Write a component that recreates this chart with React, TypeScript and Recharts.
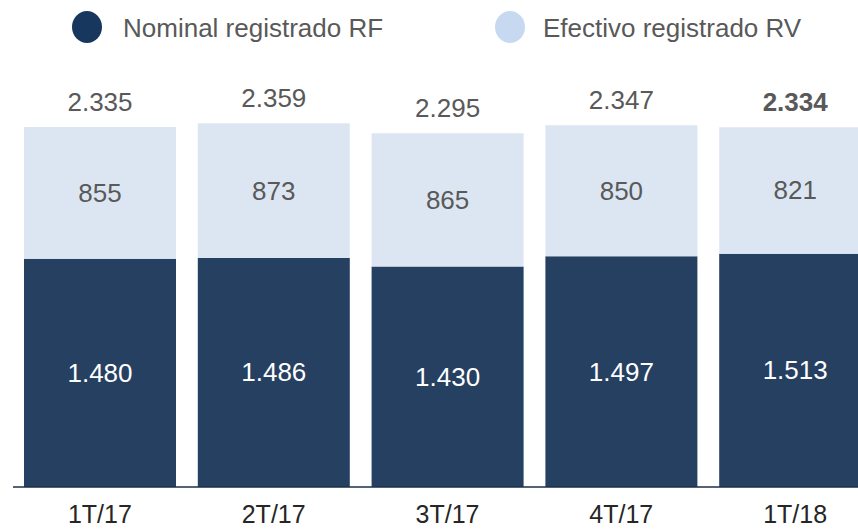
import { BarChart, Bar, XAxis, YAxis, LabelList, Legend } from 'recharts'

const quarters = ['1T/17', '2T/17', '3T/17', '4T/17', '1T/18']
const nominalRF = [1480, 1486, 1430, 1497, 1513]
const efectivoRV = [855, 873, 865, 850, 821]
const totals = [2335, 2359, 2295, 2347, 2334]

const DARK = '#264061'
const LIGHT = '#dce6f2'
const FONT = 'Liberation Sans, Arial, sans-serif'

const data = quarters.map((q, i) => ({
  quarter: q,
  rf: nominalRF[i],
  rv: efectivoRV[i],
  total: totals[i],
}))

const fmt = (v: number) => v.toLocaleString('de-DE')

function InnerLabel(color: string) {
  return (props: any) => {
    const { x, y, width, height, value } = props
    return (
      <text
        x={x + width / 2}
        y={y + height / 2 + 9}
        textAnchor="middle"
        fontSize={26}
        fontFamily={FONT}
        fill={color}
      >
        {fmt(value)}
      </text>
    )
  }
}

function TotalLabel(props: any) {
  const { x, y, width, index } = props
  const last = index === totals.length - 1
  return (
    <text
      x={x + width / 2}
      y={y - 16}
      textAnchor="middle"
      fontSize={26}
      fontFamily={FONT}
      fontWeight={last ? 'bold' : 'normal'}
      fill="#595959"
    >
      {fmt(totals[index])}
    </text>
  )
}

function TopLegend() {
  return (
    <svg width={858} height={60} style={{ display: 'block' }}>
      <ellipse cx={87} cy={27} rx={15} ry={16} fill="#17375e" />
      <text x={123} y={37} fontSize={26} fontFamily={FONT} fill="#595959">
        Nominal registrado RF
      </text>
      <ellipse cx={510} cy={27} rx={15} ry={16} fill="#c6d9f1" />
      <text x={543} y={37} fontSize={26} fontFamily={FONT} fill="#595959">
        Efectivo registrado RV
      </text>
    </svg>
  )
}

function QuarterTick(props: any) {
  const { x, y, payload } = props
  return (
    <text x={x} y={y + 18} textAnchor="middle" fontSize={25} fontFamily={FONT} fill="#262626">
      {payload.value}
    </text>
  )
}

export default function App() {
  return (
    <div
      style={{
        position: 'fixed',
        left: 0,
        top: 0,
        width: 858,
        height: 530,
        overflow: 'hidden',
        background: '#fff',
      }}
    >
      <BarChart
        width={882}
        height={530}
        data={data}
        margin={{ top: 57, right: 0, left: 13, bottom: 0 }}
        barSize={152}
      >
        <Legend
          verticalAlign="top"
          height={60}
          content={() => <TopLegend />}
          wrapperStyle={{ position: 'absolute', top: 0, left: 0, width: 858 }}
        />
        <XAxis
          dataKey="quarter"
          height={43}
          tickLine={false}
          axisLine={{ stroke: '#1c2f4a', strokeWidth: 1.5 }}
          tick={<QuarterTick />}
          tickMargin={12}
          interval={0}
        />
        <YAxis hide domain={[0, 2400]} allowDataOverflow />
        <Bar dataKey="rf" stackId="a" fill={DARK} isAnimationActive={false}>
          <LabelList dataKey="rf" content={InnerLabel('#ffffff')} />
        </Bar>
        <Bar dataKey="rv" stackId="a" fill={LIGHT} isAnimationActive={false}>
          <LabelList dataKey="rv" content={InnerLabel('#595959')} />
          <LabelList dataKey="total" content={TotalLabel} />
        </Bar>
      </BarChart>
    </div>
  )
}
